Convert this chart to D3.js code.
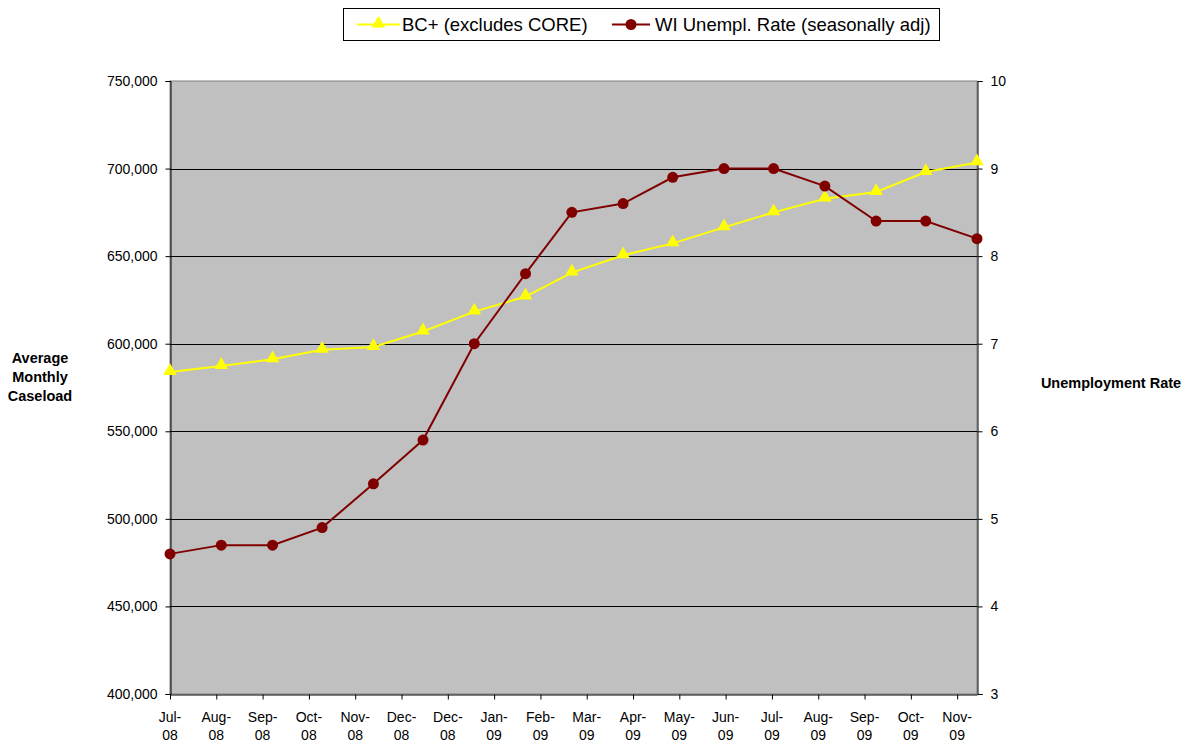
<!DOCTYPE html>
<html>
<head>
<meta charset="utf-8">
<script src="https://cdn.jsdelivr.net/npm/d3@7"></script>
<style>
  body { margin: 0; background: #fff; }
  svg text { font-family: "Liberation Sans", Arial, sans-serif; fill: #000; }
</style>
</head>
<body>
<svg id="chart" width="1189" height="742"></svg>
<script>
const months = ["2008-07-15","2008-08-15","2008-09-15","2008-10-15","2008-11-15","2008-12-15",
  "2009-01-15","2009-02-15","2009-03-15","2009-04-15","2009-05-15","2009-06-15","2009-07-15",
  "2009-08-15","2009-09-15","2009-10-15","2009-11-15"];
const caseload = [583800, 587300, 591100, 596500, 598100, 607000, 618300, 626900, 640600,
  650500, 657300, 666400, 675000, 682800, 686600, 698000, 703500];
const unemployment = [4.6, 4.7, 4.7, 4.9, 5.4, 5.9, 7.0, 7.8, 8.5, 8.6, 8.9, 9.0, 9.0, 8.8, 8.4, 8.4, 8.2];
const leftTicks = [400000, 450000, 500000, 550000, 600000, 650000, 700000, 750000];
const rightTicks = [3, 4, 5, 6, 7, 8, 9, 10];
const seriesNames = ["BC+ (excludes CORE)", "WI Unempl. Rate (seasonally adj)"];
const axisTitleLeft = ["Average", "Monthly", "Caseload"];
const axisTitleRight = "Unemployment Rate";

const parse = d3.timeParse("%Y-%m-%d");
const dates = months.map(parse);

const svg = d3.select("#chart");
const L = 170, R = 977, T = 81, B = 694;

const x = d3.scaleTime().domain([dates[0], dates[dates.length - 1]]).range([L, R]);
const yL = d3.scaleLinear().domain([400000, 750000]).range([B, T]);
const yR = d3.scaleLinear().domain([3, 10]).range([B, T]);

// Plot area
svg.append("rect").attr("x", L).attr("y", T).attr("width", R - L).attr("height", B - T)
  .attr("fill", "#C0C0C0").attr("stroke", "#808080").attr("stroke-width", 1);

// gridlines
svg.append("g").selectAll("line").data(leftTicks.slice(1, -1)).join("line")
  .attr("x1", L).attr("x2", R)
  .attr("y1", d => Math.round(yL(d)) + 0.5).attr("y2", d => Math.round(yL(d)) + 0.5)
  .attr("stroke", "#000").attr("stroke-width", 1);

// x ticks every 28 days
const xTicks = [];
for (let d = dates[0]; d <= dates[dates.length - 1]; d = d3.timeDay.offset(d, 28)) xTicks.push(d);

const fmtTop = d3.timeFormat("%b-"), fmtBot = d3.timeFormat("%y");

// Left axis
const gL = svg.append("g").attr("transform", `translate(${L + 0.5},0)`)
  .call(d3.axisLeft(yL).tickValues(leftTicks).tickFormat(d3.format(",")).tickSize(5).tickPadding(8));
gL.selectAll("text").attr("font-size", 14).attr("font-family", "Liberation Sans, Arial, sans-serif");
gL.select(".domain").attr("stroke", "#000");

// Right axis
const gR = svg.append("g").attr("transform", `translate(${R + 0.5},0)`)
  .call(d3.axisRight(yR).tickValues(rightTicks).tickFormat(d3.format("d")).tickSize(5).tickPadding(8));
gR.selectAll("text").attr("font-size", 14).attr("font-family", "Liberation Sans, Arial, sans-serif");
gR.select(".domain").attr("stroke", "#000");

// Bottom axis
const gB = svg.append("g").attr("transform", `translate(0,${B + 0.5})`)
  .call(d3.axisBottom(x).tickValues(xTicks).tickFormat("").tickSize(5).tickSizeOuter(0));
gB.select(".domain").attr("stroke", "#000");
const xl = svg.append("g").selectAll("text").data(xTicks).join("text")
  .attr("text-anchor", "middle").attr("font-size", 14)
  .attr("x", d => x(d));
xl.append("tspan").attr("x", d => x(d)).attr("y", 722).text(d => fmtTop(d));
xl.append("tspan").attr("x", d => x(d)).attr("y", 740).text(d => fmtBot(d));

// Lines
const lineL = d3.line().x((d, i) => x(dates[i])).y(d => yL(d));
const lineR = d3.line().x((d, i) => x(dates[i])).y(d => yR(d));

svg.append("path").datum(caseload).attr("d", lineL).attr("fill", "none")
  .attr("stroke", "#FFFF00").attr("stroke-width", 2);
const tri = d3.symbol().type(d3.symbolTriangle).size(80);
svg.append("g").selectAll("path").data(caseload).join("path")
  .attr("d", tri).attr("transform", (d, i) => `translate(${x(dates[i])},${yL(d) - 1})`)
  .attr("fill", "#FFFF00");

svg.append("path").datum(unemployment).attr("d", lineR).attr("fill", "none")
  .attr("stroke", "#800000").attr("stroke-width", 2);
svg.append("g").selectAll("circle").data(unemployment).join("circle")
  .attr("cx", (d, i) => x(dates[i])).attr("cy", d => yR(d)).attr("r", 5.5)
  .attr("fill", "#800000");

// Axis titles
const lt = svg.append("text").attr("text-anchor", "middle").attr("font-size", 14.5).attr("font-weight", "bold");
axisTitleLeft.forEach((t, i) => lt.append("tspan").attr("x", 40).attr("y", 363 + i * 19).text(t));
svg.append("text").attr("text-anchor", "middle").attr("font-size", 14.5).attr("font-weight", "bold")
  .attr("x", 1111).attr("y", 388).text(axisTitleRight);

// Legend
const lg = svg.append("g");
lg.append("rect").attr("x", 343.5).attr("y", 8.5).attr("width", 596).attr("height", 32)
  .attr("fill", "#fff").attr("stroke", "#000");
lg.append("line").attr("x1", 357).attr("x2", 400).attr("y1", 24.5).attr("y2", 24.5)
  .attr("stroke", "#FFFF00").attr("stroke-width", 2);
lg.append("path").attr("d", tri).attr("transform", "translate(378.5,23.5)").attr("fill", "#FFFF00");
lg.append("text").attr("x", 402).attr("y", 31).attr("font-size", 18.5).text(seriesNames[0]);
lg.append("line").attr("x1", 612).attr("x2", 650).attr("y1", 24.5).attr("y2", 24.5)
  .attr("stroke", "#800000").attr("stroke-width", 2);
lg.append("circle").attr("cx", 631).attr("cy", 24.5).attr("r", 5.5).attr("fill", "#800000");
lg.append("text").attr("x", 655).attr("y", 31).attr("font-size", 18.5).text(seriesNames[1]);
</script>
</body>
</html>
